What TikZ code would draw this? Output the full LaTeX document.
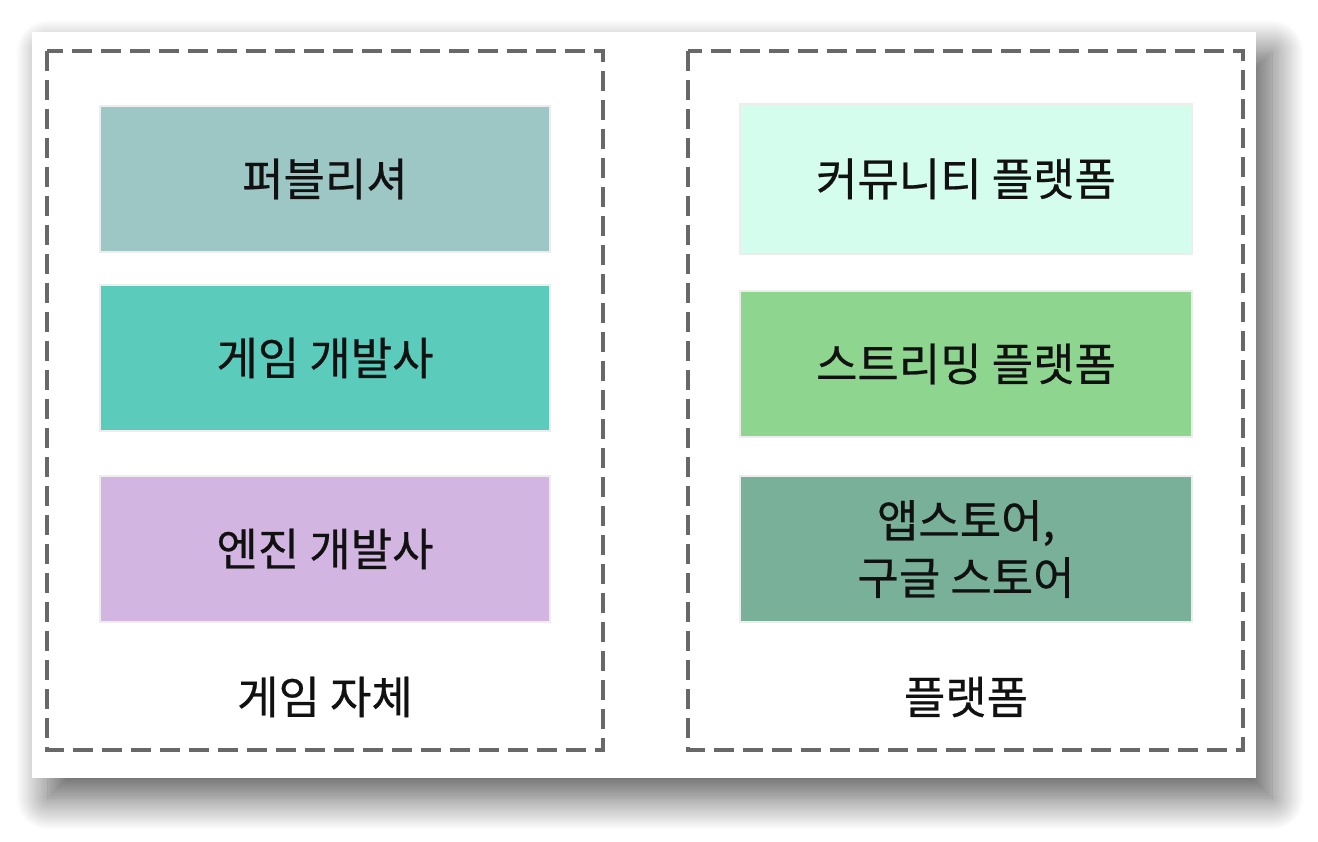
\documentclass[tikz,border=0pt]{standalone}
\usepackage{fontspec}
\newfontfamily\kr[FakeBold=0.5]{Noto Sans CJK KR}
\usetikzlibrary{shadows.blur}
\definecolor{cPub}{HTML}{9DC7C5}
\definecolor{cDev}{HTML}{5BCBBB}
\definecolor{cEng}{HTML}{D2B5E1}
\definecolor{cCom}{HTML}{D5FDEE}
\definecolor{cStr}{HTML}{8ED690}
\definecolor{cApp}{HTML}{78B09A}
\definecolor{cFrame}{HTML}{686868}
\definecolor{cText}{HTML}{111111}
\tikzset{
  catbox/.style={draw=black!7, line width=1.2pt, minimum width=450pt, minimum height=146pt, inner sep=0pt, font=\kr\fontsize{45}{57}\selectfont, text=cText, align=center},
  groupframe/.style={draw=cFrame, line width=3.4pt, dash pattern=on 20pt off 9pt},
  grouplabel/.style={font=\kr\fontsize{45}{57}\selectfont, text=cText, inner sep=0pt}
}
\begin{document}
\begin{tikzpicture}[x=1pt,y=-1pt]
\useasboundingbox (0,0) rectangle (1318,842);
\fill[white, blur shadow={shadow xshift=16pt, shadow yshift=-20pt, shadow blur radius=32pt, shadow blur steps=30, shadow opacity=65}] (32,32) rectangle (1256,778);
\draw[groupframe] (47,51) rectangle (603,750);
\draw[groupframe] (688,51) rectangle (1243,750);
\node[catbox, fill=cPub] (pub) at (325,179) {퍼블리셔};
\node[catbox, fill=cDev] (dev) at (325,358) {게임 개발사};
\node[catbox, fill=cEng] (eng) at (325,549) {엔진 개발사};
\node[catbox, fill=cCom, minimum width=452pt, minimum height=150pt] (com) at (966,179) {커뮤니티 플랫폼};
\node[catbox, fill=cStr, minimum width=452pt] (str) at (966,364) {스트리밍 플랫폼};
\node[catbox, fill=cApp, minimum width=452pt] (app) at (966,549) {앱스토어,\\구글 스토어};
\node[grouplabel] (lgame) at (325,697) {게임 자체};
\node[grouplabel] (lplat) at (966,697) {플랫폼};
\end{tikzpicture}
\end{document}
